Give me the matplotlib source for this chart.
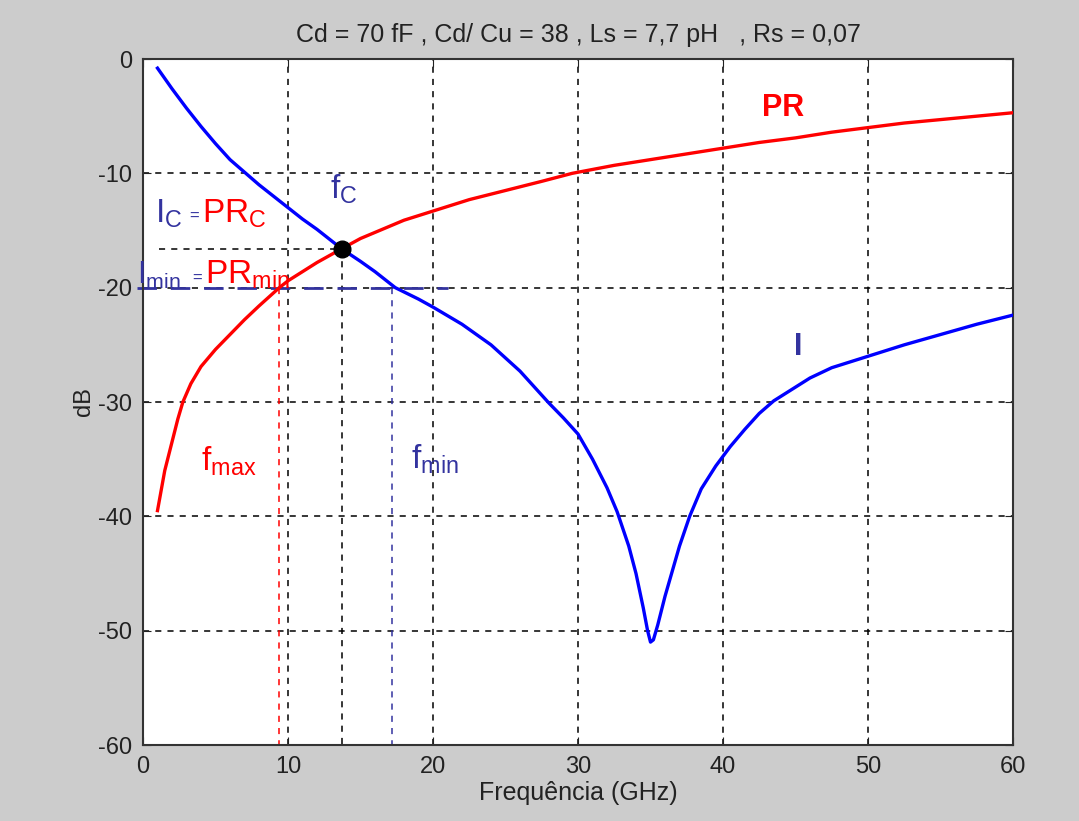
import matplotlib
matplotlib.use("Agg")
import matplotlib.pyplot as plt

plt.rcParams['font.family'] = ['Liberation Sans', 'DejaVu Sans']

# Data
freq_I = [1, 1.5, 2, 3, 4, 5, 6, 7, 8, 9, 10, 11, 12, 13, 13.7, 15, 16, 17.4, 19, 20, 22, 24, 26, 28,
          29, 30, 31, 32, 32.7, 33.5, 34, 34.5, 34.8, 35.0, 35.2, 35.5, 36, 36.5, 37, 37.7, 38.5, 39.5,
          40.5, 41.5, 42.5, 43.5, 45, 46, 47.5, 50, 52.5, 55, 57.5, 60]
val_I = [-0.8, -1.7, -2.6, -4.3, -5.9, -7.4, -8.8, -9.9, -11.0, -12.0, -13.0, -14.0, -14.9, -15.9, -16.6, -17.7, -18.6, -20.0, -21.0, -21.7, -23.2, -25.0, -27.3, -30.1,
         -31.4, -32.8, -35.0, -37.5, -39.6, -42.6, -45.0, -48.0, -50.0, -51.0, -50.8, -49.5, -47.0, -44.8, -42.6, -40.0, -37.6, -35.6,
         -33.9, -32.4, -31.0, -29.9, -28.7, -27.9, -27.0, -26.0, -25.0, -24.1, -23.2, -22.4]

freq_PR = [1, 1.5, 2, 2.4, 2.75, 3.3, 4, 5, 6, 7, 8, 9.4, 10, 11, 12, 13.7, 15, 16.5, 18, 20, 22.5, 25, 27.5, 29.6,
           32.5, 35, 37.5, 40, 42.5, 45, 47.5, 50, 52.5, 55, 57.5, 60]
val_PR = [-39.5, -36.0, -33.5, -31.5, -30.0, -28.4, -26.9, -25.4, -24.1, -22.8, -21.6, -20.0, -19.4, -18.6, -17.8, -16.6, -15.7, -14.9, -14.1, -13.3, -12.3, -11.5, -10.7, -10.0,
          -9.3, -8.8, -8.3, -7.8, -7.3, -6.9, -6.4, -6.0, -5.6, -5.3, -5.0, -4.7]

f_c, v_c = 13.7, -16.6
f_max, f_min, v_min = 9.4, 17.2, -20

xticks = [0, 10, 20, 30, 40, 50, 60]
yticks = [0, -10, -20, -30, -40, -50, -60]
ytick_labels = ['0', '-10', '-20', '-30', '-40', '-50', '-60']

title = "Cd = 70 fF , Cd/ Cu = 38 , Ls = 7,7 pH   , Rs = 0,07"
navy = '#33339f'
bg = '#cccccc'
txt = '#222222'

fig = plt.figure(figsize=(10.79, 8.21), dpi=100, facecolor=bg)
ax = fig.add_axes([143/1079, 1-745/821, (1013-143)/1079, (745-59)/821])
ax.set_facecolor('white')
ax.set_xlim(0, 60)
ax.set_ylim(-60, 0)
ax.set_xticks(xticks)
ax.set_yticks(yticks)
ax.set_yticklabels(ytick_labels)
ax.tick_params(direction='in', length=6, labelsize=17, colors=txt, top=True, right=True, pad=8)
for s in ax.spines.values():
    s.set_color('#333333')
    s.set_linewidth(1.5)
ax.grid(True, color='black', linestyle=(0, (4, 4)), linewidth=1.1)

ax.plot(freq_PR, val_PR, color='#ff0000', lw=2.4, zorder=3)
ax.plot(freq_I, val_I, color='#0000ff', lw=2.4, zorder=3)

# annotation lines
ax.plot([1.1, f_c], [v_c, v_c], color='black', ls=(0, (4, 4)), lw=1.1, zorder=2)
ax.plot([f_c, f_c], [v_c, -60], color='black', ls=(0, (4, 4)), lw=1.1, zorder=2)
ax.plot([-0.4, 21], [v_min, v_min], color=navy, ls=(0, (7, 5)), lw=2.0, zorder=2, clip_on=False)
ax.plot([f_max, f_max], [v_min, -60], color='#ff0000', ls=(0, (4, 4)), lw=1.1, zorder=2)
ax.plot([f_min, f_min], [v_min, -60], color=navy, ls=(0, (4, 4)), lw=1.1, zorder=2)
ax.plot([f_c], [v_c], 'o', color='black', ms=12, zorder=5)

ax.set_title(title, fontsize=18, color=txt, pad=12)
ax.set_xlabel('Frequência (GHz)', fontsize=18, color=txt, labelpad=2)
ax.set_ylabel('dB', fontsize=17, color=txt, labelpad=2)

# texts
fs = 24
ax.text(0.8, -13.5, r'I$_\mathregular{C}$', color=navy, fontsize=fs, va='center', ha='left')
ax.text(3.2, -13.8, '=', color=navy, fontsize=12, va='center', ha='left')
ax.text(4.1, -13.5, r'PR$_\mathregular{C}$', color='#ff0000', fontsize=fs, va='center', ha='left')
ax.text(-0.4, -18.9, r'I$_\mathregular{min}$', color=navy, fontsize=22, va='center', ha='left')
ax.text(3.4, -19.2, '=', color=navy, fontsize=12, va='center', ha='left')
ax.text(4.25, -18.9, r'PR$_\mathregular{min}$', color='#ff0000', fontsize=fs, va='center', ha='left')
ax.text(12.9, -11.4, r'f$_\mathregular{C}$', color=navy, fontsize=fs, va='center', ha='left')
ax.text(42.7, -4.3, 'PR', color='#ff0000', fontsize=22, fontweight='bold', va='center', ha='left')
ax.text(44.9, -25.2, 'I', color=navy, fontsize=22, fontweight='bold', va='center', ha='left')
ax.text(4.0, -35.2, r'f$_\mathregular{max}$', color='#ff0000', fontsize=fs, va='center', ha='left')
ax.text(18.5, -35.0, r'f$_\mathregular{min}$', color=navy, fontsize=fs, va='center', ha='left')

fig.savefig('out.png', dpi=100, facecolor=bg)
